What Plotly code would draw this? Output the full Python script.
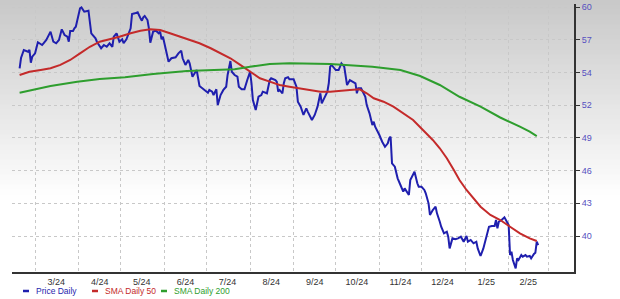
import plotly.graph_objects as go

# ---------------- data ----------------
price_dates = [
    "2024-02-19","2024-02-20","2024-02-22","2024-02-24","2024-02-25","2024-02-26","2024-02-27","2024-02-28",
    "2024-03-01","2024-03-03","2024-03-06","2024-03-07","2024-03-09","2024-03-12","2024-03-14","2024-03-16",
    "2024-03-18","2024-03-20","2024-03-22","2024-03-24","2024-03-25","2024-03-26","2024-03-28","2024-03-29",
    "2024-03-30","2024-04-02","2024-04-03","2024-04-05","2024-04-07","2024-04-08","2024-04-10","2024-04-13",
    "2024-04-14","2024-04-16","2024-04-17","2024-04-19","2024-04-21","2024-04-23","2024-04-25","2024-04-26",
    "2024-04-28","2024-04-30","2024-05-02","2024-05-03","2024-05-05","2024-05-08","2024-05-09","2024-05-11",
    "2024-05-13","2024-05-15","2024-05-16","2024-05-17","2024-05-18","2024-05-20","2024-05-21","2024-05-22",
    "2024-05-24","2024-05-26","2024-05-28","2024-05-29","2024-05-30","2024-05-31","2024-06-02","2024-06-04",
    "2024-06-06","2024-06-09","2024-06-11","2024-06-13","2024-06-14","2024-06-16","2024-06-18","2024-06-19",
    "2024-06-21","2024-06-23","2024-06-24","2024-06-26","2024-06-28","2024-06-30","2024-07-02","2024-07-03",
    "2024-07-05","2024-07-06","2024-07-08","2024-07-09","2024-07-11","2024-07-13","2024-07-15","2024-07-16",
    "2024-07-18","2024-07-19","2024-07-21","2024-07-23","2024-07-24","2024-07-26","2024-07-28","2024-07-30",
    "2024-08-01","2024-08-02","2024-08-03","2024-08-05","2024-08-07","2024-08-09","2024-08-10","2024-08-13",
    "2024-08-15","2024-08-16","2024-08-19","2024-08-20","2024-08-21","2024-08-22","2024-08-24","2024-08-25",
    "2024-08-26","2024-08-28","2024-08-29","2024-09-01","2024-09-03","2024-09-04","2024-09-06","2024-09-08",
    "2024-09-10","2024-09-11","2024-09-14","2024-09-16","2024-09-18","2024-09-19","2024-09-20","2024-09-21",
    "2024-09-22","2024-09-25","2024-09-26","2024-09-27","2024-09-28","2024-10-01","2024-10-03","2024-10-04",
    "2024-10-05","2024-10-07","2024-10-09","2024-10-11","2024-10-13","2024-10-15","2024-10-16","2024-10-17",
    "2024-10-19","2024-10-20","2024-10-22","2024-10-23","2024-10-25","2024-10-27","2024-10-28","2024-10-29",
    "2024-10-31","2024-11-01","2024-11-03","2024-11-05","2024-11-07","2024-11-08","2024-11-09","2024-11-10",
    "2024-11-12","2024-11-14","2024-11-16","2024-11-18","2024-11-19","2024-11-22","2024-11-23","2024-11-25",
    "2024-11-26","2024-11-28","2024-11-29","2024-12-01","2024-12-03","2024-12-04","2024-12-06","2024-12-07",
    "2024-12-09","2024-12-11","2024-12-12","2024-12-14","2024-12-15","2024-12-17","2024-12-19","2024-12-20",
    "2024-12-21","2024-12-23","2024-12-25","2024-12-27","2024-12-29","2024-12-31","2025-01-02","2025-01-03",
    "2025-01-05","2025-01-07","2025-01-09","2025-01-10","2025-01-12","2025-01-14","2025-01-16","2025-01-18",
    "2025-01-20","2025-01-22","2025-01-23","2025-01-24","2025-01-25","2025-01-27","2025-01-29","2025-01-30",
    "2025-02-01","2025-02-02","2025-02-03","2025-02-04","2025-02-06","2025-02-07","2025-02-08","2025-02-10",
    "2025-02-11","2025-02-13","2025-02-14","2025-02-16","2025-02-17","2025-02-19","2025-02-20","2025-02-21",
    "2025-02-22",
]
price_values = [
    54.76,55.65,56.35,56.29,56.20,56.35,55.25,55.77,
    56.06,57.02,56.78,56.93,57.22,57.94,57.07,56.93,
    57.22,58.14,57.65,57.50,57.07,58.00,58.00,58.23,
    58.37,59.97,60.05,59.67,59.73,59.76,57.80,57.36,
    57.07,56.63,56.50,56.78,56.63,56.93,56.63,57.50,
    57.80,57.07,57.28,56.93,57.28,58.23,59.47,59.53,
    59.62,59.10,58.89,59.19,59.30,58.95,58.23,56.98,
    57.94,58.02,57.80,57.94,57.28,57.50,56.50,55.33,
    55.63,55.71,56.06,56.29,55.63,55.05,55.48,55.19,
    54.03,54.46,54.61,53.22,53.02,52.81,52.64,52.88,
    52.73,52.44,52.94,51.57,52.44,52.88,53.16,54.18,
    55.39,54.46,54.18,54.03,53.16,52.94,52.94,53.74,
    54.46,53.46,52.01,51.14,52.29,52.44,52.73,52.59,
    53.74,53.89,53.74,53.60,52.73,52.88,52.59,53.46,
    53.89,53.98,53.80,53.80,53.16,51.86,51.43,50.71,
    51.29,51.00,50.27,50.71,51.43,52.01,52.59,51.72,
    52.01,52.73,53.46,54.90,55.05,54.61,54.61,54.90,
    55.19,54.90,53.31,53.74,53.60,53.46,52.59,53.02,
    53.02,52.73,52.29,51.57,50.85,49.84,50.12,49.69,
    49.26,48.97,48.39,47.95,48.25,48.68,48.82,46.51,
    46.22,45.21,44.63,44.05,44.34,43.76,45.06,45.50,
    45.78,44.78,44.48,44.48,44.20,43.91,43.04,42.03,
    42.46,42.75,42.17,41.44,41.01,40.44,40.58,40.14,
    39.13,40.00,39.92,40.00,40.14,39.71,40.20,39.71,
    39.86,39.57,39.71,39.13,38.47,39.13,40.00,41.01,
    41.07,41.07,41.59,40.87,41.44,41.59,41.83,41.59,
    41.16,38.55,38.84,38.12,37.40,38.27,38.12,38.55,
    38.41,38.55,38.41,38.47,38.27,38.64,38.75,39.71,
    39.42,
]

sma50_dates = [
    "2024-02-19","2024-02-26","2024-03-05","2024-03-12","2024-03-19","2024-03-26","2024-04-02","2024-04-09",
    "2024-04-16","2024-04-23","2024-04-30","2024-05-08","2024-05-15","2024-05-22","2024-05-29","2024-06-05",
    "2024-06-12","2024-06-19","2024-06-26","2024-07-04","2024-07-11","2024-07-18","2024-07-25","2024-08-01",
    "2024-08-08","2024-08-15","2024-08-22","2024-08-29","2024-09-06","2024-09-13","2024-09-20","2024-09-27",
    "2024-10-04","2024-10-11","2024-10-18","2024-10-23","2024-10-28","2024-11-04","2024-11-11","2024-11-18",
    "2024-11-25","2024-12-02","2024-12-09","2024-12-14","2024-12-19","2024-12-24","2024-12-28","2025-01-02",
    "2025-01-07","2025-01-12","2025-01-19","2025-01-26","2025-02-02","2025-02-09","2025-02-16","2025-02-21",
]
sma50_values = [
    54.18,54.46,54.61,54.76,55.05,55.48,56.06,56.63,
    57.07,57.28,57.50,57.80,58.02,58.14,58.08,57.80,
    57.50,57.22,56.93,56.50,56.06,55.63,55.05,54.46,
    53.89,53.60,53.31,53.16,53.02,52.88,52.73,52.73,
    52.83,52.88,52.94,52.59,52.16,51.86,51.43,50.85,
    50.27,49.40,48.54,47.82,46.95,45.93,45.06,44.20,
    43.48,42.75,42.03,41.59,41.01,40.44,40.00,39.77,
]

sma200_dates = [
    "2024-02-19","2024-03-12","2024-03-31","2024-04-16","2024-05-04","2024-05-24","2024-06-17","2024-07-04",
    "2024-07-21","2024-08-01","2024-08-15","2024-08-29","2024-09-13","2024-09-27","2024-10-08","2024-10-27",
    "2024-11-16","2024-11-30","2024-12-14","2024-12-28","2025-01-12","2025-01-26","2025-02-09","2025-02-16",
    "2025-02-21",
]
sma200_values = [
    52.64,53.22,53.60,53.83,53.98,54.26,54.52,54.61,
    54.67,54.90,55.13,55.19,55.19,55.13,55.05,54.90,
    54.61,54.09,53.31,52.29,51.43,50.49,49.69,49.26,
    48.88,
]

y_tick_vals = [40.2, 43.04, 45.88, 48.72, 51.56, 54.4, 57.24, 60.08]
y_tick_text = ["40", "43", "46", "49", "52", "54", "57", "60"]

x_tick_vals = ["2024-03-16","2024-04-16","2024-05-16","2024-06-16","2024-07-16","2024-08-16",
               "2024-09-16","2024-10-16","2024-11-16","2024-12-16","2025-01-16","2025-02-15"]
x_tick_text = ["3/24","4/24","5/24","6/24","7/24","8/24","9/24","10/24","11/24","12/24","1/25","2/25"]
month_starts = ["2024-03-01","2024-04-01","2024-05-01","2024-06-01","2024-07-01","2024-08-01",
                "2024-09-01","2024-10-01","2024-11-01","2024-12-01","2025-01-01","2025-02-01","2025-03-01"]

series_names = ["Price Daily", "SMA Daily 50", "SMA Daily 200"]
series_colors = ["#1f1fae", "#c42a2a", "#2e9e2e"]

# ---------------- figure ----------------
W, H = 620, 299
ML, MR, MT, MB = 12, 46, 4, 27
plot_w = W - ML - MR
plot_h = H - MT - MB


def px_x(px):
    return (px - ML) / plot_w


def px_y(py):
    return (H - MB - py) / plot_h


fig = go.Figure()
for dates, vals, color, name in [(price_dates, price_values, series_colors[0], series_names[0]),
                                 (sma50_dates, sma50_values, series_colors[1], series_names[1]),
                                 (sma200_dates, sma200_values, series_colors[2], series_names[2])]:
    fig.add_trace(go.Scatter(x=dates, y=vals, mode="lines", name=name, showlegend=False,
                             line=dict(color=color, width=2),
                             hoverinfo="skip"))

# gradient background (grey at top fading to white)
n_bands = 40
grad_px = 200
for i in range(n_bands):
    py0 = i * grad_px / n_bands
    py1 = (i + 1) * grad_px / n_bands
    t = (i + 0.5) / n_bands
    g = int(round(200 + (255 - 200) * t))
    fig.add_shape(type="rect", xref="paper", yref="paper",
                  x0=-0.05, x1=1.2,
                  y0=px_y(py1), y1=px_y(py0) + (0.002 if i else 0.02),
                  fillcolor=f"rgb({g},{g},{g})", line=dict(width=0), layer="below")

# legend drawn as dash + text below the axis
legend_dash_px = [26, 95, 164]
legend_text_px = [34, 103, 172]
legend_y_px = 291
for name, color, dx, tx in zip(series_names, series_colors, legend_dash_px, legend_text_px):
    fig.add_shape(type="line", xref="paper", yref="paper",
                  x0=px_x(dx - 3), x1=px_x(dx + 3), y0=px_y(legend_y_px), y1=px_y(legend_y_px),
                  line=dict(color=color, width=2.5))
    fig.add_annotation(xref="paper", yref="paper", x=px_x(tx), y=px_y(legend_y_px),
                       xanchor="left", yanchor="middle", showarrow=False,
                       text=name, font=dict(size=8.5, color=color))

fig.update_layout(
    width=W, height=H,
    margin=dict(l=ML, r=MR, t=MT, b=MB),
    paper_bgcolor="white", plot_bgcolor="rgba(0,0,0,0)",
    font=dict(family="Liberation Sans, Arial, sans-serif", size=9, color="#333333"),
    showlegend=False,
    xaxis=dict(
        type="date",
        range=["2024-02-13 14:00", "2025-03-19 12:00"],
        tickmode="array", tickvals=x_tick_vals, ticktext=x_tick_text,
        showgrid=False, ticks="",
        showline=True, linecolor="#333333", linewidth=2,
        tickfont=dict(size=9, color="#333333"),
        minor=dict(tickmode="array", tickvals=month_starts, showgrid=True,
                   gridcolor="#c8c8c8", griddash="dot", gridwidth=1, ticks=""),
        zeroline=False, fixedrange=True, automargin=False,
    ),
    yaxis=dict(
        side="right",
        range=[37.08, 60.34],
        tickmode="array", tickvals=y_tick_vals, ticktext=y_tick_text,
        showgrid=True, gridcolor="#c8c8c8", griddash="dot", gridwidth=1,
        ticks="outside", ticklen=4, tickcolor="#333333", tickwidth=1,
        showline=True, linecolor="#333333", linewidth=2,
        tickfont=dict(size=9, color="#5650c0"),
        zeroline=False, fixedrange=True, automargin=False,
    ),
)

fig.write_html("out.html")
